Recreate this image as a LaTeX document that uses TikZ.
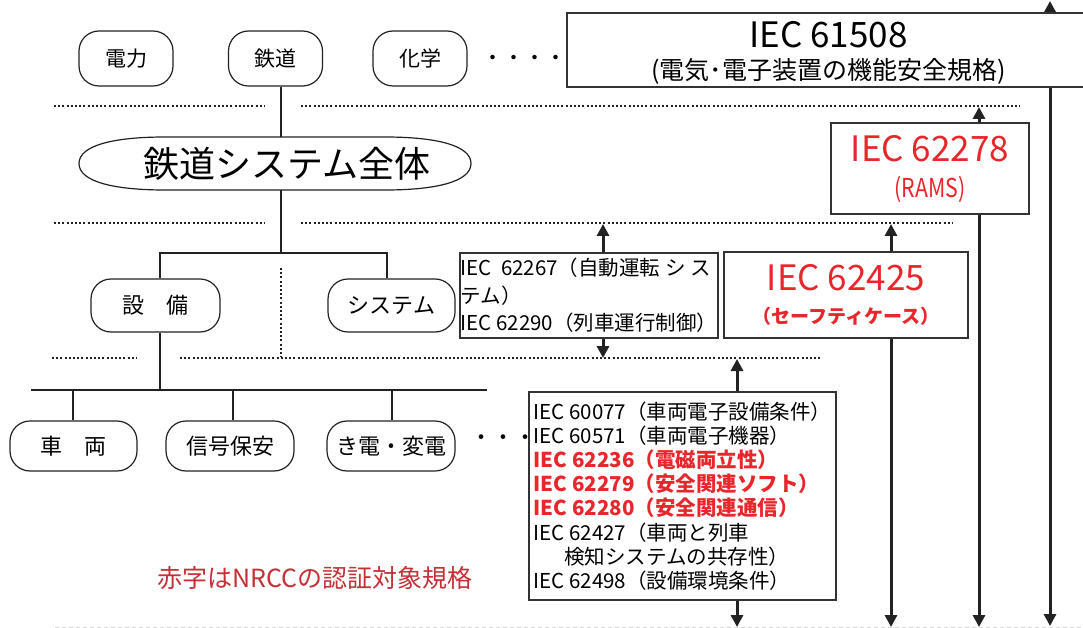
\documentclass[tikz,border=0pt]{standalone}
\usepackage{fontspec}
\setmainfont{Noto Sans CJK JP}
\newfontfamily\jpcond[FakeStretch=0.82]{Noto Sans CJK JP}
\usetikzlibrary{arrows.meta,calc}
\definecolor{ink}{HTML}{222222}
\definecolor{boxline}{HTML}{333333}
\definecolor{redtxt}{HTML}{E8262B}
\definecolor{notered}{HTML}{C62F36}
\definecolor{faint}{HTML}{D4D4D4}
\newcommand{\jfs}[2]{\fontsize{#1}{#2}\selectfont}
\begin{document}
\begin{tikzpicture}[x=1pt,y=-1pt,
  pill/.style={draw=ink, line width=1.2pt, rounded corners=20pt, fill=white, inner sep=0pt, font=\jfs{21}{24}},
  tree/.style={draw=ink, line width=2.6pt},
  dotline/.style={draw=ink, line width=2pt, dash pattern=on 2pt off 2.2pt},
  stdbox/.style={draw=boxline, line width=1.3pt, fill=white, inner sep=0pt},
  arr/.style={draw=ink, line width=3pt, -{Triangle[width=12pt,length=12pt]}},
  darr/.style={draw=ink, line width=3pt, {Triangle[width=12pt,length=12pt]}-{Triangle[width=12pt,length=12pt]}}
]
\useasboundingbox (0,0) rectangle (1083,628);
\fill[white] (0,0) rectangle (1083,628);

% faint bottom line
\draw[faint, line width=1pt, dash pattern=on 4pt off 3pt] (55,627) -- (1083,627);

% far right double arrow (behind IEC 61508 box)
\coordinate (rTop) at (1050,1);
\coordinate (rBot) at (1050,626);
\draw[darr] (rBot) -- (rTop);

% top row
\node[pill, minimum width=94pt, minimum height=55pt] (denryoku) at (126,58.5) {電力};
\node[pill, minimum width=94pt, minimum height=55pt] (tetsudo) at (275.5,58.5) {鉄道};
\node[pill, minimum width=94pt, minimum height=55pt] (kagaku) at (420,58.5) {化学};
\node[font=\jfs{21}{24}, inner sep=0pt] (dots1) at (524,60) {・・・・};

\node[stdbox, minimum width=523pt, minimum height=74pt, align=center,
      font=\jfs{25}{32}] (iec61508) at (828.5,50)
  {{\jfs{35}{32}\rule{0pt}{31pt}IEC 61508}\\(電気･電子装置の機能安全規格)};

% dotted separators
\draw[dotline] (54,106) -- (265,106);
\draw[dotline] (301,106) -- (1020,106);
\draw[dotline] (54,223) -- (265,223);
\draw[dotline] (301,223) -- (953,223);
\draw[dotline] (52,358) -- (137,358);
\draw[dotline] (180,358) -- (822,358);
\draw[dotline] (281,268) -- (281,357);

% whole railway system
\draw[line width=1.2pt, draw=ink, fill=white]
  (79,163.5) .. controls (79,145) and (115,137) .. (165,137) -- (385,137)
  .. controls (435,137) and (471,145) .. (471,163.5)
  .. controls (471,182) and (435,190) .. (385,190) -- (165,190)
  .. controls (115,190) and (79,182) .. (79,163.5) -- cycle;
\node[inner sep=0pt, minimum height=53pt, font=\jfs{36}{40}] (sys) at (287,163.5) {鉄道システム全体};

\coordinate (trunk) at (281,253);
\coordinate (brL) at (160,253);
\coordinate (brR) at (387,253);
\draw[tree] (tetsudo.south -| trunk) -- (sys.north -| trunk);
\draw[tree] (sys.south -| trunk) -- (trunk);

\node[pill, minimum width=129pt, minimum height=53pt, font=\jfs{22}{24}] (setsubi) at (155.5,305.5) {設　備};
\node[pill, minimum width=127pt, minimum height=53pt, font=\jfs{22}{24}] (system) at (391.5,305.5) {システム};
\draw[tree] (setsubi.north -| brL) -- (brL) -- (brR) -- (system.north -| brR);

\coordinate (busJ) at (160,390);
\coordinate (busL) at (31,390);
\coordinate (busR) at (487,390);
\draw[tree] (setsubi.south -| busJ) -- (busJ);
\draw[tree] (busL) -- (busR);

\node[pill, minimum width=127pt, minimum height=50pt, font=\jfs{22}{24}] (sharyo) at (73.5,446) {車　両};
\node[pill, minimum width=128pt, minimum height=50pt, font=\jfs{22}{24}] (shingo) at (230,446) {信号保安};
\node[pill, minimum width=128pt, minimum height=50pt, font=\jfs{22}{24}] (kiden) at (391,446) {き電・変電};
\coordinate (dr1) at (73,390);
\coordinate (dr2) at (233,390);
\coordinate (dr3) at (392,390);
\draw[tree] (dr1) -- (sharyo.north -| dr1);
\draw[tree] (dr2) -- (shingo.north -| dr2);
\draw[tree] (dr3) -- (kiden.north -| dr3);
\node[font=\jfs{22}{24}, inner sep=0pt] (dots2) at (503,440) {・・・};

% standards boxes
\node[stdbox, minimum width=198pt, minimum height=91pt, align=center,
      text=redtxt, font=\jfs{26}{36}] (iec62278) at (930,168.5)
  {{\jfs{35}{36}IEC 62278}\\{\jpcond (RAMS)}};

\node[stdbox, minimum width=244pt, minimum height=86pt, align=center,
      text=redtxt, font=\jfs{19}{33}] (iec62425) at (846,295)
  {{\jfs{35}{33}IEC 62425}\\{\bfseries （セーフティケース）}};

\node[stdbox, minimum width=258pt, minimum height=85pt, align=left,
      font=\jfs{20.5}{27.5}] (iec62267) at (589,295.5)
  {IEC\ \ 62267（自動運転 シ ス\\テム）\\IEC 62290（列車運行制御）};

\node[stdbox, minimum width=307pt, minimum height=208pt, align=left,
      font=\jfs{20.5}{24.2}] (list) at (682.5,496)
  {IEC 60077（車両電子設備条件）\\
   IEC 60571（車両電子機器）\\
   \textcolor{redtxt}{\bfseries IEC 62236（電磁両立性）}\\
   \textcolor{redtxt}{\bfseries IEC 62279（安全関連ソフト）}\\
   \textcolor{redtxt}{\bfseries IEC 62280（安全関連通信）}\\
   IEC 62427（車両と列車\\
   \hspace*{1.5em}検知システムの共存性）\\
   IEC 62498（設備環境条件）};

% arrows
\coordinate (a78t) at (979,107);
\coordinate (a78b) at (979,627);
\draw[arr] (iec62278.north -| a78t) -- (a78t);
\draw[arr] (iec62278.south -| a78b) -- (a78b);

\coordinate (a25t) at (891,224);
\coordinate (a25b) at (891,627);
\draw[arr] (iec62425.north -| a25t) -- (a25t);
\draw[arr] (iec62425.south -| a25b) -- (a25b);

\coordinate (a67t) at (603,224);
\coordinate (a67b) at (603,358);
\draw[arr] (iec62267.north -| a67t) -- (a67t);
\draw[arr] (iec62267.south -| a67b) -- (a67b);

\coordinate (alt) at (737,359);
\coordinate (alb) at (737,627);
\draw[arr] (list.north -| alt) -- (alt);
\draw[arr] (list.south -| alb) -- (alb);

% note
\node[text=notered, font=\jfs{25}{28}, inner sep=0pt] (note) at (315,578) {赤字はNRCCの認証対象規格};
\end{tikzpicture}
\end{document}
